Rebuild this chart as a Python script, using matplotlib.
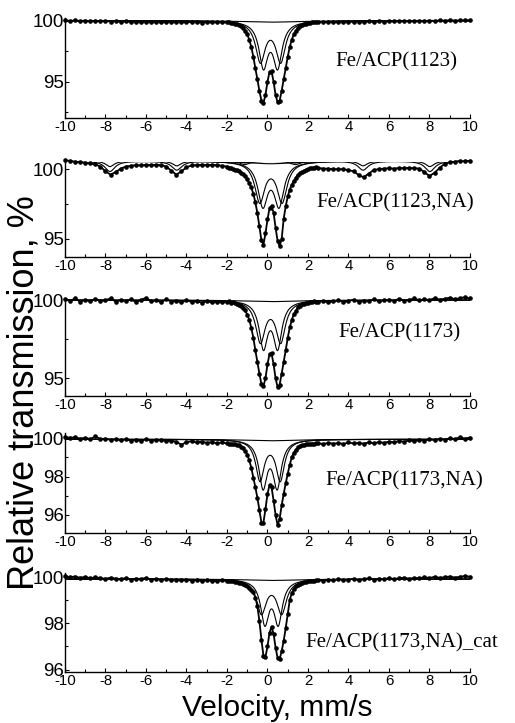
import numpy as np
import matplotlib
matplotlib.use("Agg")
import matplotlib.pyplot as plt
from matplotlib.ticker import MultipleLocator

plt.rcParams['font.family'] = ['Liberation Sans', 'DejaVu Sans']

# ---------------- data ----------------
# velocity sampling (mm/s): coarse outer segments, finer in the central dip
seg_left = (-10.0, -2.0)
seg_mid = (-1.9, 2.4)
seg_right = (2.5, 10.0)

# Panel 1: Fe/ACP(1123)
p1_left = [100.03, 99.98, 100.02, 99.97, 100.01, 99.95, 100.0, 99.96, 99.98, 99.93,
           99.96, 99.92, 99.95, 99.89, 99.93, 99.88, 99.92, 99.87, 99.9, 99.86,
           99.91, 99.87, 99.89, 99.9, 99.86, 99.9, 99.88, 99.85, 99.89, 99.86,
           99.88, 99.87, 99.86]
p1_mid = [99.86, 99.84, 99.8, 99.76, 99.7, 99.64, 99.54, 99.4, 99.18, 98.88,
          98.45, 97.85, 97.05, 96.1, 95.2, 94.25, 93.45, 93.25, 93.9, 95.0,
          95.8, 95.85, 95.0, 93.9, 93.3, 93.45, 94.25, 95.2, 96.1, 97.05,
          97.85, 98.45, 98.88, 99.18, 99.4, 99.54, 99.64, 99.7, 99.76, 99.8,
          99.84, 99.86, 99.88, 99.9]
p1_right = [99.9, 99.88, 99.91, 99.87, 99.9, 99.88, 99.92, 99.89, 99.93, 99.9,
            99.94, 99.91, 99.95, 99.93, 99.96, 99.94, 99.97, 99.95, 99.98, 99.96,
            100.0, 99.97, 100.01, 99.98, 100.02, 100.0, 100.03, 100.01, 100.02, 100.04,
            100.02]

# Panel 2: Fe/ACP(1123,NA)
p2_left = [100.65, 100.6, 100.55, 100.52, 100.48, 100.42, 100.35, 100.2, 99.85, 99.62,
           99.8, 100.05, 100.2, 100.25, 100.3, 100.28, 100.32, 100.3, 100.33, 100.3,
           100.2, 99.9, 99.62, 99.85, 100.15, 100.28, 100.3, 100.33, 100.3, 100.32,
           100.3, 100.25, 100.2]
p2_mid = [100.12, 100.08, 100.03, 99.98, 99.93, 99.87, 99.77, 99.65, 99.5, 99.28,
          99.0, 98.7, 98.25, 97.65, 96.85, 95.9, 94.9, 94.6, 95.4, 96.4,
          97.2, 97.35, 96.9, 95.8, 94.85, 94.5, 95.0, 96.45, 97.35, 98.05,
          98.55, 98.9, 99.15, 99.4, 99.6, 99.73, 99.83, 99.9, 99.96, 100.02,
          100.06, 100.1, 100.13, 100.15]
p2_right = [100.1, 100.05, 100.05, 100.0, 100.02, 100.0, 99.95, 99.85, 99.6, 99.42,
            99.7, 99.95, 100.02, 100.05, 100.08, 100.05, 100.1, 100.08, 100.1, 100.08,
            100.05, 99.8, 99.52, 99.75, 100.1, 100.4, 100.5, 100.55, 100.6, 100.58,
            100.62]

# Panel 3: Fe/ACP(1173)
p3_left = [100.05, 99.95, 100.1, 99.9, 100.02, 99.92, 100.08, 99.94, 99.98, 100.12,
           99.9, 100.0, 99.93, 100.05, 99.88, 100.0, 100.15, 99.92, 99.98, 99.87,
           100.05, 99.9, 99.95, 99.85, 99.98, 99.88, 99.93, 99.84, 99.92, 99.86,
           99.9, 99.85, 99.88]
p3_mid = [99.93, 99.84, 99.86, 99.78, 99.77, 99.68, 99.64, 99.5, 99.35, 99.06,
          98.75, 98.22, 97.6, 96.8, 96.05, 95.3, 94.63, 94.5, 95.0, 95.9,
          96.55, 96.6, 95.9, 95.0, 94.42, 94.6, 95.3, 96.05, 96.8, 97.58,
          98.25, 98.72, 99.1, 99.3, 99.53, 99.6, 99.72, 99.74, 99.83, 99.82,
          99.9, 99.86, 99.93, 99.9]
p3_right = [99.88, 99.95, 99.85, 99.92, 99.98, 99.87, 99.95, 100.02, 99.9, 99.97,
            99.93, 100.05, 99.92, 99.98, 100.03, 99.95, 100.08, 99.97, 100.02, 100.1,
            99.98, 100.05, 100.0, 100.12, 100.03, 100.08, 100.15, 100.05, 100.12, 100.18,
            100.1]

# Panel 4: Fe/ACP(1173,NA)
p4_left = [100.08, 100.02, 100.05, 99.98, 100.03, 99.95, 100.1, 99.96, 99.98, 99.92,
           99.95, 99.9, 99.94, 99.88, 99.93, 99.86, 99.95, 99.88, 99.9, 99.92,
           99.85, 99.88, 99.82, 99.66, 99.8, 99.84, 99.78, 99.82, 99.76, 99.8,
           99.74, 99.78, 99.73]
p4_mid = [99.72, 99.71, 99.7, 99.68, 99.66, 99.63, 99.57, 99.48, 99.35, 99.15,
          98.85, 98.47, 97.95, 97.45, 96.9, 96.25, 95.6, 95.6, 96.3, 97.1,
          97.55, 97.45, 96.75, 96.0, 95.45, 95.8, 96.5, 97.1, 97.65, 98.15,
          98.63, 99.0, 99.25, 99.4, 99.52, 99.6, 99.64, 99.67, 99.68, 99.7,
          99.71, 99.72, 99.72, 99.73]
p4_right = [99.74, 99.7, 99.76, 99.72, 99.75, 99.7, 99.78, 99.73, 99.76, 99.72,
            99.78, 99.74, 99.8, 99.76, 99.83, 99.79, 99.86, 99.82, 99.9, 99.85,
            99.92, 99.88, 99.95, 99.9, 99.97, 99.93, 100.0, 99.96, 100.05, 99.98,
            100.04]

# Panel 5: Fe/ACP(1173,NA)_cat
p5_left = [100.05, 100.0, 100.03, 99.97, 100.02, 99.95, 100.0, 99.96, 99.93, 99.98,
           99.94, 99.92, 99.96, 99.9, 99.94, 99.92, 99.97, 99.9, 99.93, 99.88,
           99.92, 99.87, 99.9, 99.86, 99.9, 99.85, 99.88, 99.84, 99.87, 99.85,
           99.83, 99.86, 99.84]
p5_mid = [99.84, 99.83, 99.82, 99.8, 99.78, 99.76, 99.73, 99.7, 99.65, 99.6,
          99.53, 99.45, 99.35, 99.12, 98.75, 98.1, 97.3, 96.6, 96.55, 97.0,
          97.6, 97.85, 97.55, 96.95, 96.5, 96.45, 96.8, 97.25, 97.8, 98.4,
          99.02, 99.3, 99.48, 99.6, 99.67, 99.72, 99.76, 99.79, 99.8, 99.82,
          99.83, 99.84, 99.85, 99.86]
p5_right = [99.88, 99.85, 99.9, 99.86, 99.92, 99.88, 99.9, 99.93, 99.87, 99.92,
            99.95, 99.9, 99.94, 99.91, 99.96, 99.92, 99.95, 99.98, 99.93, 99.97,
            99.95, 100.0, 99.96, 100.02, 99.97, 100.0, 100.03, 99.98, 100.02, 100.05,
            100.02]

# Fitted components (Lorentzian sub-spectra): baseline, doublets, singlet, sextets
# doublet: centre shift, half splitting, half width, depth
p1_base = 100.0
p1_dbl_center = [0.15, 0.15]
p1_dbl_half = [0.50, 0.35]
p1_dbl_hwhm = [0.286, 0.263]
p1_dbl_depth = [3.26, 3.6]
p1_sing = [0.15, 1.6, 0.12]

p2_base = 100.6
p2_dbl_center = [0.17, 0.17]
p2_dbl_half = [0.55, 0.40]
p2_dbl_hwhm = [0.297, 0.29]
p2_dbl_depth = [2.86, 3.05]
p2_sing = [0.17, 1.5, 0.2]
p2_sext_center = 0.12
p2_sext_offsets = [7.9, 4.6, 1.25]
p2_sext_ratio = [1.0, 0.87, 0.33]
p2_sext_hwhm = [0.25, 0.3]
p2_sext_depth = [0.4, 0.75]

p3_base = 100.0
p3_dbl_center = [0.15, 0.15]
p3_dbl_half = [0.50, 0.35]
p3_dbl_hwhm = [0.28, 0.25]
p3_dbl_depth = [2.6, 2.9]
p3_sing = [0.15, 1.6, 0.1]

p4_base = 99.95
p4_dbl_center = [0.13, 0.13]
p4_dbl_half = [0.50, 0.35]
p4_dbl_hwhm = [0.25, 0.241]
p4_dbl_depth = [2.1, 2.4]
p4_sing = [0.13, 1.6, 0.08]

p5_base = 99.92
p5_dbl_center = [0.20, 0.20]
p5_dbl_half = [0.50, 0.33]
p5_dbl_hwhm = [0.286, 0.244]
p5_dbl_depth = [1.44, 1.83]
p5_sing = [0.2, 1.6, 0.06]

labels = ["Fe/ACP(1123)", "Fe/ACP(1123,NA)", "Fe/ACP(1173)",
          "Fe/ACP(1173,NA)", "Fe/ACP(1173,NA)_cat"]
yticks_list = [[95, 100], [95, 100], [95, 100], [96, 98, 100], [96, 98, 100]]
xticks = [-10, -8, -6, -4, -2, 0, 2, 4, 6, 8, 10]

# ---------------- layout / styling ----------------
ax_left, ax_width = 0.1262, 0.7864
panel_y0 = [0.8368, 0.6450, 0.4527, 0.2624, 0.0710]
panel_h = [0.1383, 0.1314, 0.1351, 0.1383, 0.1361]
panel_ylim = [(92.02, 100.22), (93.73, 100.55), (93.89, 100.13),
              (95.04, 100.26), (95.91, 100.17)]
label_pos = [(3.33, 96.64), (2.40, 97.56), (3.48, 97.9), (2.84, 97.8), (1.85, 97.14)]
yminor = [2.5, 2.5, 2.5, 1.0, 1.0]


def lor(v, c, g, h):
    return h / (1.0 + ((v - c) / g) ** 2)


fig = plt.figure(figsize=(5.15, 7.23), dpi=100)

panels = [
    (p1_left, p1_mid, p1_right, p1_base, p1_dbl_center, p1_dbl_half, p1_dbl_hwhm, p1_dbl_depth, p1_sing, False),
    (p2_left, p2_mid, p2_right, p2_base, p2_dbl_center, p2_dbl_half, p2_dbl_hwhm, p2_dbl_depth, p2_sing, True),
    (p3_left, p3_mid, p3_right, p3_base, p3_dbl_center, p3_dbl_half, p3_dbl_hwhm, p3_dbl_depth, p3_sing, False),
    (p4_left, p4_mid, p4_right, p4_base, p4_dbl_center, p4_dbl_half, p4_dbl_hwhm, p4_dbl_depth, p4_sing, False),
    (p5_left, p5_mid, p5_right, p5_base, p5_dbl_center, p5_dbl_half, p5_dbl_hwhm, p5_dbl_depth, p5_sing, False),
]

vv = np.linspace(-10, 10, 2001)

for i, (yl, ym, yr, base, dc, dh, dw, dd, sing, has_sext) in enumerate(panels):
    ax = fig.add_axes([ax_left, panel_y0[i], ax_width, panel_h[i]])
    v = np.concatenate([np.linspace(seg_left[0], seg_left[1], len(yl)),
                        np.linspace(seg_mid[0], seg_mid[1], len(ym)),
                        np.linspace(seg_right[0], seg_right[1], len(yr))])
    y = np.array(yl + ym + yr)

    # component sub-spectra
    comp_lw = 0.8
    ax.plot(vv, base - lor(vv, sing[0], sing[1], sing[2]), color='black', lw=comp_lw)
    for c, s, g, h in zip(dc, dh, dw, dd):
        ax.plot(vv, base - lor(vv, c - s, g, h) - lor(vv, c + s, g, h),
                color='black', lw=comp_lw)
    if has_sext:
        for g, h in zip(p2_sext_hwhm, p2_sext_depth):
            tot = np.zeros_like(vv)
            for o, r in zip(p2_sext_offsets, p2_sext_ratio):
                tot += lor(vv, p2_sext_center - o, g, h * r) + lor(vv, p2_sext_center + o, g, h * r)
            ax.plot(vv, base - tot, color='black', lw=comp_lw)

    # experimental points with fitted envelope
    ax.plot(v, y, color='black', lw=1.3, marker='o', markersize=3.3,
            markeredgewidth=0, clip_on=False, zorder=3)

    ax.set_xlim(-10, 10)
    ax.set_ylim(*panel_ylim[i])
    ax.set_xticks(xticks)
    ax.set_xticklabels([str(t) for t in xticks])
    ax.xaxis.set_minor_locator(MultipleLocator(1))
    ax.set_yticks(yticks_list[i])
    ax.set_yticklabels([str(t) for t in yticks_list[i]])
    ax.yaxis.set_minor_locator(MultipleLocator(yminor[i]))
    for sp in ['top', 'right']:
        ax.spines[sp].set_visible(False)
    for sp in ['left', 'bottom']:
        ax.spines[sp].set_linewidth(1.0)
    ax.tick_params(axis='x', which='major', direction='in', length=3, width=0.8,
                   labelsize=10.8, pad=1.5)
    ax.tick_params(axis='x', which='minor', direction='in', length=2, width=0.8)
    ax.tick_params(axis='y', which='major', direction='in', length=3, width=0.8,
                   labelsize=13.5, pad=1)
    ax.tick_params(axis='y', which='minor', direction='in', length=2, width=0.8)
    ax.patch.set_alpha(0)

    ax.text(label_pos[i][0], label_pos[i][1], labels[i], ha='left', va='center',
            fontsize=15, family=['Liberation Serif', 'DejaVu Serif'])

fig.text(24 / 515, 1 - 393 / 723, "Relative transmission, %", rotation=90,
         ha='center', va='center', fontsize=26)
fig.text(277 / 515, 1 - 708 / 723, "Velocity, mm/s", ha='center', va='center',
         fontsize=21.5)

fig.savefig("out.png", dpi=100)
